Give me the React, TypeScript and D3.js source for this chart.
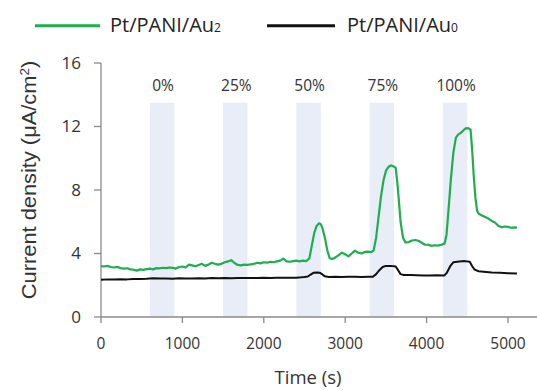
import React from "react";
import * as d3 from "d3";

const greenTimes = [0,40,80,120,160,200,240,280,320,360,400,440,480,520,560,600,640,680,720,760,800,840,880,920,960,1000,1040,1080,1120,1160,1200,1240,1280,1320,1360,1400,1440,1480,1520,1560,1600,1640,1680,1720,1760,1800,1840,1880,1920,1960,2000,2040,2080,2120,2160,2200,2240,2280,2320,2360,2400,2440,2480,2520,2560,2590,2620,2650,2680,2700,2720,2750,2780,2810,2840,2880,2920,2960,3000,3040,3080,3120,3160,3200,3240,3280,3320,3350,3380,3410,3440,3470,3500,3530,3560,3590,3620,3640,3660,3680,3710,3740,3780,3820,3860,3900,3940,3980,4020,4060,4100,4140,4180,4220,4245,4270,4300,4330,4360,4390,4420,4450,4480,4510,4540,4560,4580,4600,4620,4640,4680,4720,4760,4800,4840,4880,4920,4960,5000,5040,5080,5110];
const greenValues = [3.2,3.18,3.22,3.15,3.12,3.16,3.08,3.05,3.07,3.0,2.98,2.92,3.0,2.97,3.02,3.05,3.0,3.08,3.06,3.1,3.08,3.12,3.1,3.05,3.15,3.18,3.12,3.3,3.25,3.2,3.28,3.35,3.22,3.3,3.42,3.35,3.3,3.35,3.45,3.5,3.58,3.4,3.28,3.25,3.3,3.28,3.32,3.35,3.42,3.38,3.45,3.42,3.48,3.45,3.5,3.55,3.68,3.5,3.48,3.52,3.55,3.5,3.55,3.52,3.7,4.5,5.3,5.75,5.9,5.85,5.6,5.0,4.2,3.7,3.65,3.75,3.9,4.05,3.95,3.82,4.0,4.18,4.05,4.0,4.1,4.12,4.08,4.2,5.0,6.3,7.6,8.6,9.2,9.45,9.55,9.5,9.4,8.5,7.3,6.0,5.0,4.7,4.72,4.82,4.85,4.8,4.68,4.55,4.55,4.48,4.52,4.5,4.55,4.62,5.2,6.8,8.8,10.4,11.3,11.5,11.6,11.75,11.88,11.9,11.8,10.5,8.8,7.5,6.7,6.5,6.4,6.3,6.2,6.05,5.95,5.75,5.65,5.7,5.68,5.62,5.65,5.63];

const blackTimes = [0,80,160,240,320,400,480,560,640,720,800,880,960,1040,1120,1200,1280,1360,1440,1520,1600,1680,1760,1840,1920,2000,2080,2160,2240,2320,2400,2460,2500,2540,2580,2610,2650,2690,2720,2750,2800,2880,2960,3040,3120,3200,3280,3340,3380,3420,3460,3500,3560,3620,3650,3680,3720,3800,3880,3960,4040,4120,4220,4250,4290,4330,4400,4470,4530,4560,4590,4640,4700,4800,4900,5000,5110];
const blackValues = [2.35,2.37,2.36,2.38,2.37,2.4,2.39,2.41,2.44,2.42,2.43,2.41,2.44,2.43,2.42,2.44,2.43,2.45,2.44,2.45,2.44,2.46,2.45,2.46,2.45,2.47,2.46,2.48,2.47,2.48,2.48,2.5,2.52,2.55,2.68,2.78,2.8,2.78,2.68,2.56,2.52,2.53,2.52,2.54,2.53,2.52,2.54,2.53,2.7,2.95,3.15,3.22,3.22,3.18,2.95,2.7,2.65,2.64,2.63,2.62,2.62,2.63,2.62,2.8,3.2,3.45,3.5,3.52,3.48,3.2,2.98,2.88,2.85,2.8,2.78,2.76,2.74];

const bandStarts = [600, 1500, 2400, 3300, 4200];
const bandEnds = [900, 1800, 2700, 3600, 4500];
const bandLabels = ["0%", "25%", "50%", "75%", "100%"];
const xTicks = [0, 1000, 2000, 3000, 4000, 5000];
const yTicks = [0, 4, 8, 12, 16];
const seriesNames = ["Pt/PANI/Au", "Pt/PANI/Au"];
const seriesSubs = ["2", "0"];

const W = 537, H = 390;
const GREEN = "#1fae4f";
const BAND = "#e8edf8";
const AXIS = "#8a8a8a";
const TEXT = "#333333";
const FONT = "'Open Sans', sans-serif";

export default function App() {
  const x = d3.scaleLinear().domain([0, 5500]).range([101, 548.7]);
  const y = d3.scaleLinear().domain([0, 16]).range([317, 63]);

  const green = greenTimes.map((t, i) => [t, greenValues[i]] as [number, number]);
  const black = blackTimes.map((t, i) => [t, blackValues[i]] as [number, number]);
  const line = d3.line<[number, number]>().x(d => x(d[0])).y(d => y(d[1]));

  return (
    <svg width={W} height={H} style={{ position: "absolute", left: 0, top: 0, background: "#fff" }}>
      {/* bands */}
      {bandStarts.map((s, i) => (
        <rect key={"b" + i} x={x(s)} y={y(13.5)} width={x(bandEnds[i]) - x(s)} height={y(0) - y(13.5)} fill={BAND} />
      ))}
      {bandStarts.map((s, i) => (
        <text key={"bl" + i} x={x((s + bandEnds[i]) / 2) + 1} y={90.5} textAnchor="middle" fontFamily={FONT} fontSize={15.5} fill={TEXT}>
          {bandLabels[i]}
        </text>
      ))}

      {/* axes */}
      <line x1={x(0)} x2={W} y1={y(0)} y2={y(0)} stroke={AXIS} strokeWidth={1.3} />
      <line x1={x(0)} x2={x(0)} y1={y(0)} y2={y(16)} stroke={AXIS} strokeWidth={1.3} />
      {xTicks.map(t => (
        <g key={"xt" + t}>
          <line x1={x(t)} x2={x(t)} y1={y(0)} y2={y(0) + 6} stroke={AXIS} strokeWidth={1.3} />
          <text x={x(t)} y={348.5} textAnchor="middle" fontFamily={FONT} fontSize={15.5} fill={TEXT}>{t}</text>
        </g>
      ))}
      {yTicks.map(t => (
        <g key={"yt" + t}>
          <line x1={x(0) - 7} x2={x(0)} y1={y(t)} y2={y(t)} stroke={AXIS} strokeWidth={1.3} />
          <text x={81} y={y(t) + 5.5} textAnchor="end" fontFamily={FONT} fontSize={17} fill={TEXT}>{t}</text>
        </g>
      ))}

      {/* lines */}
      <path d={line(black) || ""} fill="none" stroke="#111" strokeWidth={2} strokeLinejoin="round" />
      <path d={line(green) || ""} fill="none" stroke={GREEN} strokeWidth={2.2} strokeLinejoin="round" />

      {/* titles */}
      <text x={308} y={384} textAnchor="middle" fontFamily={FONT} fontSize={18.5} fill={TEXT}>Time (s)</text>
      <text transform="translate(36,180) rotate(-90) scale(1.12,1)" textAnchor="middle" fontFamily="'Liberation Sans', Arial, sans-serif" fontSize={19.5} fill={TEXT}>
        Current density (μA/cm<tspan dy={-7} fontSize={12}>2</tspan><tspan dy={7}>)</tspan>
      </text>

      {/* legend */}
      <line x1={35} x2={100} y1={25.7} y2={25.7} stroke={GREEN} strokeWidth={3} />
      <text x={110} y={31.7} fontFamily={FONT} fontSize={20} fill="#222">
        {seriesNames[0]}<tspan fontSize={12} dy={0}>{seriesSubs[0]}</tspan>
      </text>
      <line x1={267} x2={335} y1={25.7} y2={25.7} stroke="#111" strokeWidth={3} />
      <text x={347} y={31.7} fontFamily={FONT} fontSize={20} fill="#222">
        {seriesNames[1]}<tspan fontSize={12} dy={0}>{seriesSubs[1]}</tspan>
      </text>
    </svg>
  );
}
